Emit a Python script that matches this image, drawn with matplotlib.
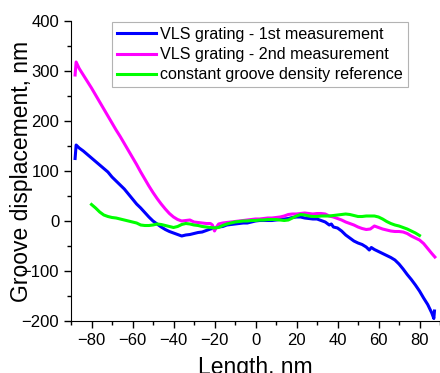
import matplotlib.pyplot as plt
from matplotlib.ticker import MultipleLocator

plt.rcParams['font.family'] = ['Liberation Sans', 'DejaVu Sans']

# VLS grating - 1st measurement
x_first = [-88.0, -87.5, -86, -84, -82, -80, -78, -76, -74, -72, -70, -68, -66, -64, -62,
           -60, -58, -56, -54, -52, -50, -48, -46, -44, -42, -40, -38, -36, -34, -32,
           -30, -28, -26, -24, -22, -20, -18, -16, -14, -12, -10, -8, -6, -4, -2, 0,
           2, 4, 6, 8, 10, 12, 14, 16, 18, 20, 22, 24, 26, 28, 30, 32, 34, 36, 37,
           38, 40, 42, 44, 46, 48, 50, 52, 54, 55.5, 56.5, 58, 60, 62, 64, 66, 68,
           70, 72, 74, 76, 78, 80, 82, 84, 86, 87, 87.3]
y_first = [125, 152, 146, 140, 133, 126, 119, 112, 105, 98, 88, 80, 72, 64, 54,
           44, 34, 26, 17, 8, 0, -6, -12, -17, -21, -24, -27, -30, -28, -27,
           -25, -23, -22, -19, -16, -14, -12, -11, -8, -7, -6, -5, -4, -4, -2, 0,
           1, 1, 1, 1, 2, 3, 4, 5, 7, 8, 8, 6, 5, 4, 4, 1, -2, -8, -6,
           -12, -14, -20, -28, -34, -40, -44, -47, -52, -58, -53, -57, -61, -65, -69, -73, -78,
           -86, -96, -107, -117, -128, -140, -154, -167, -184, -195, -180]

# VLS grating - 2nd measurement
x_second = [-88.0, -87.5, -86, -84, -82, -80, -78, -76, -74, -72, -70, -68, -66, -64, -62,
            -60, -58, -56, -54, -52, -50, -48, -46, -44, -42, -40, -38, -36, -34, -32,
            -30, -28, -26, -24, -22, -21, -20, -19, -18, -16, -14, -12, -10, -8, -6,
            -4, -2, 0, 2, 4, 6, 8, 10, 12, 14, 16, 18, 20, 22, 24, 26, 28, 30, 32,
            34, 36, 38, 40, 42, 44, 46, 48, 50, 52, 54, 56, 58, 60, 62, 64, 66, 68,
            70, 72, 74, 76, 78, 80, 82, 84, 86, 87.5]
y_second = [292, 318, 305, 292, 279, 266, 252, 238, 224, 210, 196, 182, 169, 155, 141,
            127, 113, 98, 84, 70, 57, 45, 34, 24, 15, 8, 3, 0, 1, 2,
            -2, -3, -4, -5, -5, -8, -20, -12, -6, -4, -3, -2, -1, 0, 1,
            2, 3, 4, 4, 5, 6, 6, 7, 8, 10, 13, 14, 14, 15, 16, 15, 14, 15, 15,
            14, 10, 8, 5, 2, -2, -5, -8, -12, -15, -17, -16, -10, -13, -16, -18, -20, -21,
            -21, -22, -25, -30, -34, -38, -45, -55, -65, -72]

# constant groove density reference
x_ref = [-80, -78, -76, -74, -72, -70, -68, -66, -64, -62, -60, -58, -56, -54, -52,
         -50, -48, -46, -44, -42, -40, -38, -36, -34, -32, -30, -28, -26, -24, -22,
         -20, -18, -16, -14, -12, -10, -8, -6, -4, -2, 0, 2, 4, 6, 8, 10, 12, 14,
         16, 18, 20, 22, 24, 26, 28, 30, 32, 34, 36, 38, 40, 42, 44, 46, 48, 50,
         52, 54, 56, 58, 60, 62, 64, 66, 68, 70, 72, 74, 76, 78, 80]
y_ref = [33, 26, 18, 12, 9, 7, 6, 4, 2, 0, -2, -4, -8, -9, -9,
         -8, -6, -7, -9, -11, -13, -11, -7, -5, -6, -8, -9, -11, -12, -13,
         -14, -13, -9, -6, -4, -2, -1, 0, 0, 1, 1, 2, 2, 3, 3, 3, 2, 1,
         2, 6, 10, 13, 12, 10, 9, 9, 10, 10, 10, 11, 12, 13, 14, 13, 11, 9,
         9, 10, 10, 10, 8, 4, -1, -5, -8, -10, -13, -16, -20, -24, -29]

fig = plt.figure(figsize=(4.4, 3.73), dpi=100)
ax = fig.add_axes([71 / 440, 52 / 373, 369 / 440, 300 / 373])

ax.plot(x_first, y_first, color='#0000ff', lw=2.2, label='VLS grating - 1st measurement')
ax.plot(x_second, y_second, color='#ff00ff', lw=2.2, label='VLS grating - 2nd measurement')
ax.plot(x_ref, y_ref, color='#00ff00', lw=2.2, label='constant groove density reference')

ax.set_xlim(-90, 90)
ax.set_ylim(-200, 400)
ax.xaxis.set_major_locator(MultipleLocator(20))
ax.xaxis.set_minor_locator(MultipleLocator(10))
ax.yaxis.set_major_locator(MultipleLocator(100))
ax.yaxis.set_minor_locator(MultipleLocator(50))
ax.tick_params(which='major', direction='out', length=5, width=1, labelsize=12)
ax.tick_params(which='minor', direction='out', length=3, width=1)
ax.spines['top'].set_visible(False)
ax.spines['right'].set_visible(False)

ax.set_xlabel('Length, nm', fontsize=16.5, labelpad=6)
ax.set_ylabel('Groove displacement, nm', fontsize=16.5, labelpad=-8)

leg = ax.legend(loc='upper left', bbox_to_anchor=((112 - 71) / 369, 1 - 1 / 300),
                fontsize=11.6, frameon=True, fancybox=False, handlelength=2.4,
                handletextpad=0.3, borderpad=0.3, labelspacing=0.33, borderaxespad=0)
leg.get_frame().set_edgecolor('#a0a0a0')
leg.get_frame().set_linewidth(0.8)

plt.savefig('out.png', dpi=100)
